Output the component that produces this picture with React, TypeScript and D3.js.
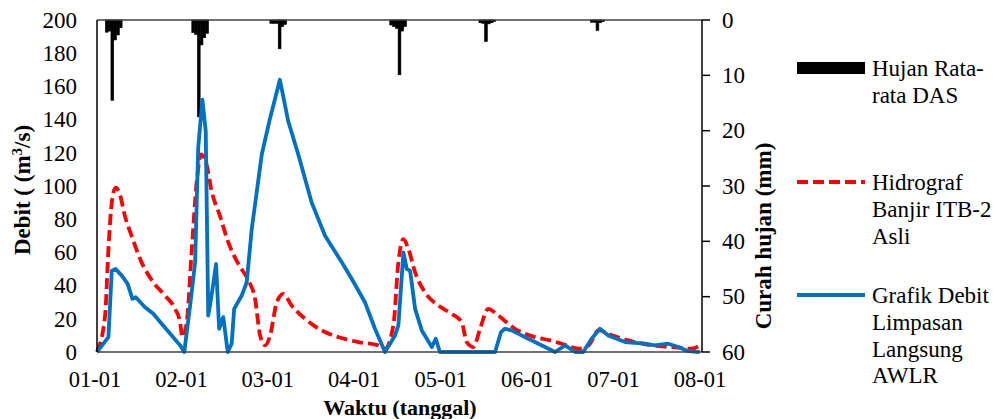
import React from "react";
import * as d3 from "d3";

// ---- data ----
const tickDays = [0, 31, 62, 93, 124, 155, 186, 217];
const tickLabels = ["01-01", "02-01", "03-01", "04-01", "05-01", "06-01", "07-01", "08-01"];
const leftTicks = [0, 20, 40, 60, 80, 100, 120, 140, 160, 180, 200];
const rightTicks = [0, 10, 20, 30, 40, 50, 60];

const rainDay = [3, 4, 5, 6, 7, 8, 34, 35, 36, 37, 38, 39, 62, 63, 64, 65, 66, 67, 105, 106, 107, 108, 109, 110, 137, 138, 139, 140, 141, 142, 177, 178, 179, 180, 181];
const rainMm = [2.2, 2.0, 14.5, 3.6, 2.7, 1.4, 2.3, 2.6, 17.5, 4.5, 3.2, 2.4, 0.6, 0.6, 0.6, 5.2, 1.2, 0.8, 0.9, 1.2, 1.5, 9.9, 2.0, 1.2, 0.5, 0.6, 3.9, 0.7, 0.5, 0.3, 0.4, 0.4, 1.9, 0.5, 0.3];

const redDay = [0, 2.9, 4.1, 5.3, 6.7, 8.2, 10, 12.4, 16, 20.2, 24.4, 28, 29.8, 30.6, 32.2, 34, 35.8, 37.3, 39.3, 41.1, 44.1, 47.1, 50.7, 54.3, 56.7, 58.5, 60.3, 62.1, 64.5, 66.8, 69.8, 74.6, 80.6, 86.5, 93.7, 100.9, 103.3, 106.3, 108.1, 109.9, 111.7, 114.1, 117.6, 122.4, 127.2, 130.8, 132.6, 135, 137.4, 140.3, 143.9, 149.9, 157.1, 162.5, 166.7, 172.7, 176.3, 179.9, 184.7, 190.6, 199, 206.1, 213.3, 216.3];
const redQ = [0, 22, 62, 90, 99, 95, 82, 70, 54, 42, 34, 26, 18, 9, 18, 62, 103, 119, 113, 97, 82, 66, 53, 43, 32, 10, 4, 10, 30, 35, 28, 20, 13, 9, 6, 4, 2, 16, 54, 68, 62, 48, 36, 28, 23, 18, 6, 3, 14, 26, 22, 14, 9, 7, 5, 2, 4, 13, 10, 7, 4, 3, 2, 4];

const blueDay = [0, 2.3, 4.1, 5.3, 6.7, 8.9, 11, 12.7, 13.9, 17.2, 20.2, 23.2, 26.8, 29.8, 31.3, 33.4, 35.2, 36.3, 37.8, 39, 39.9, 41.1, 42.7, 43.8, 45.3, 46.9, 48.3, 49.2, 51.9, 53.7, 55.5, 59.1, 62.1, 65.6, 68.6, 72.2, 77, 81.8, 87.8, 91.4, 96.1, 99.7, 103.3, 106.9, 108.1, 109.9, 111.1, 112.3, 114.1, 116.5, 120.1, 121.5, 123, 142.8, 144.9, 146.3, 148.7, 154.7, 160.7, 164.3, 167.9, 171.5, 174.4, 177.4, 180.4, 183.4, 189.4, 196.5, 200.1, 204.9, 208.5, 212.1, 216.2];
const blueQ = [0, 5, 9, 49, 50, 46, 41, 32, 33, 27, 23, 17, 10, 4, 0, 28, 54, 123, 152, 133, 22, 34, 53, 14, 21, 0, 5, 26, 34, 42, 74, 119, 141, 164, 139, 119, 90, 70, 54, 44, 30, 14, 0, 10, 16, 60, 50, 49, 26, 13, 3, 8, 0, 0, 12, 14, 13, 8, 3, 0, 4, 0, 0, 8, 14, 10, 6, 5, 4, 5, 3, 0.5, 0];

const legendItems = [
  { kind: "bar", lines: ["Hujan Rata-", "rata DAS"] },
  { kind: "red", lines: ["Hidrograf", "Banjir ITB-2", "Asli"] },
  { kind: "blue", lines: ["Grafik Debit", "Limpasan", "Langsung", "AWLR"] },
];

const FONT = "'Liberation Serif', 'Times New Roman', serif";
const BLUE = "#0070C0";
const RED = "#FF0000";

export default function App() {
  const W = 999, H = 419;
  const left = 97, right = 702, top = 20, bottom = 352;
  const x = d3.scaleLinear().domain([0, 217]).range([left, right]);
  const yL = d3.scaleLinear().domain([0, 200]).range([bottom, top]);
  const yR = d3.scaleLinear().domain([0, 60]).range([top, bottom]);

  const redPts = redDay.map((d, i) => [d, redQ[i]] as [number, number]);
  const bluePts = blueDay.map((d, i) => [d, blueQ[i]] as [number, number]);
  const redPath = d3.line<[number, number]>().x((p) => x(p[0])).y((p) => yL(p[1])).curve(d3.curveMonotoneX)(redPts) || "";
  const bluePath = d3.line<[number, number]>().x((p) => x(p[0])).y((p) => yL(p[1]))(bluePts) || "";

  const legendY = [68, 182, 295];
  const legendTextY = [76, 190, 303];
  const lh = 26.8;

  return (
    <svg width={W} height={H} style={{ position: "absolute", left: 0, top: 0, background: "#fff" }} fontFamily={FONT}>
      <rect x={0} y={0} width={W} height={H} fill="#fff" />
      {/* rain bars */}
      {rainDay.map((d, i) => (
        <rect key={"r" + i} x={x(d)} y={top} width={x(d + 1) - x(d)} height={yR(rainMm[i]) - top} fill="#000" stroke="#000" strokeWidth={0.6} />
      ))}
      {/* lines */}
      <path d={redPath} fill="none" stroke={RED} strokeWidth={3.8} strokeDasharray="11 5" />
      <path d={bluePath} fill="none" stroke={BLUE} strokeWidth={3.8} strokeLinejoin="round" />
      {/* frame */}
      <line x1={left} x2={right} y1={top} y2={top} stroke="#404040" strokeWidth={1.5} />
      <line x1={left} x2={right} y1={bottom} y2={bottom} stroke="#404040" strokeWidth={1.5} />
      <line x1={left} x2={left} y1={top} y2={bottom} stroke="#000" strokeWidth={1.5} />
      <line x1={right} x2={right} y1={top} y2={bottom} stroke="#000" strokeWidth={1.5} />
      {/* left ticks */}
      {leftTicks.map((t) => (
        <text key={"l" + t} x={77} y={yL(t)} dy="0.34em" textAnchor="end" fontSize={23} fill="#000">{t}</text>
      ))}
      {/* right ticks */}
      {rightTicks.map((t) => (
        <g key={"rt" + t}>
          <line x1={right} x2={right + 8} y1={yR(t)} y2={yR(t)} stroke="#000" strokeWidth={1.5} />
          <text x={722} y={yR(t)} dy="0.34em" textAnchor="start" fontSize={23} fill="#000">{t}</text>
        </g>
      ))}
      {/* x ticks */}
      {tickDays.map((d, i) => (
        <text key={"x" + d} x={x(d) - 2} y={387} textAnchor="middle" fontSize={22.5} fill="#000">{tickLabels[i]}</text>
      ))}
      {/* titles */}
      <text x={400} y={415} textAnchor="middle" fontSize={22} fontWeight="bold" fill="#000">Waktu (tanggal)</text>
      <text transform="translate(30,190) rotate(-90)" textAnchor="middle" fontSize={23} fontWeight="bold" fill="#000">
        Debit ( (m<tspan baselineShift="super" fontSize={15}>3</tspan>/s)
      </text>
      <text transform="translate(771,236) rotate(-90)" textAnchor="middle" fontSize={23} fontWeight="bold" fill="#000">Curah hujan (mm)</text>
      {/* legend */}
      {legendItems.map((it, i) => (
        <g key={"lg" + i}>
          {it.kind === "bar" && <rect x={797} y={legendY[i] - 6} width={68} height={12} fill="#000" />}
          {it.kind === "red" && <line x1={797} x2={865} y1={legendY[i]} y2={legendY[i]} stroke={RED} strokeWidth={3.8} strokeDasharray="11 5" />}
          {it.kind === "blue" && <line x1={797} x2={865} y1={legendY[i]} y2={legendY[i]} stroke={BLUE} strokeWidth={3.8} />}
          {it.lines.map((s, j) => (
            <text key={j} x={872} y={legendTextY[i] + j * lh} fontSize={23} fill="#000">{s}</text>
          ))}
        </g>
      ))}
    </svg>
  );
}
